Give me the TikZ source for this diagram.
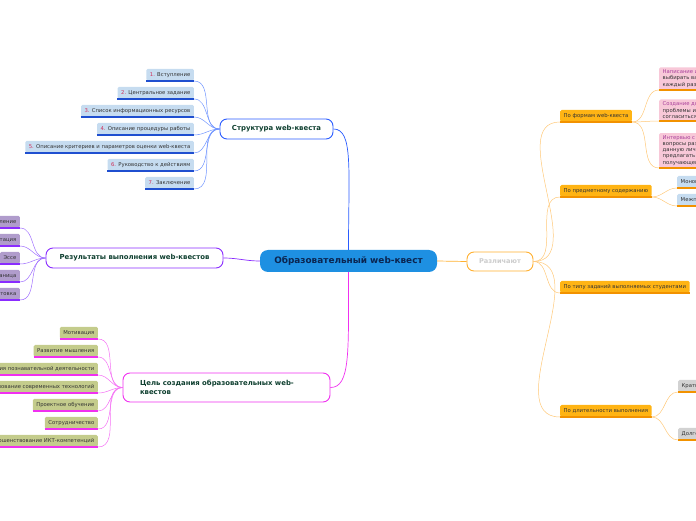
\documentclass[tikz,border=0pt]{standalone}
\usepackage{fontspec}
\setmainfont{DejaVu Sans}
\usepackage{xcolor}
\usetikzlibrary{arrows.meta}
\definecolor{hubfill}{HTML}{1E90E2}
\definecolor{hubtext}{HTML}{0B2550}
\definecolor{brtext}{HTML}{0E3F2F}
\definecolor{leaftext}{HTML}{333333}
\definecolor{numred}{HTML}{D0305A}
\definecolor{sblue}{HTML}{2A5CFF}
\definecolor{slight}{HTML}{6F94FF}
\definecolor{sfill}{HTML}{C6DCF0}
\definecolor{sline}{HTML}{1F4FD0}
\definecolor{rpurple}{HTML}{8A2CFF}
\definecolor{rlight}{HTML}{A06EFF}
\definecolor{rfill}{HTML}{B09CCC}
\definecolor{gmag}{HTML}{F030F0}
\definecolor{glight}{HTML}{F470F4}
\definecolor{gfill}{HTML}{C4CC8C}
\definecolor{orline}{HTML}{FFB030}
\definecolor{orlight}{HTML}{FFC878}
\definecolor{orfill}{HTML}{FFB414}
\definecolor{orunder}{HTML}{F29200}
\definecolor{pfill}{HTML}{F8C8D8}
\definecolor{ptitle}{HTML}{A8409A}
\definecolor{kfill}{HTML}{D2D2D2}
\newcommand{\stepno}[1]{\textcolor{numred}{#1}}

\begin{document}
\begin{tikzpicture}[
    x=1pt, y=1pt,
    hub/.style={rectangle, rounded corners=8pt, fill=hubfill, minimum width=177pt, minimum height=22pt, font=\fontsize{8.9}{10}\selectfont\bfseries, text=hubtext},
    branch/.style={rectangle, rounded corners=7pt, draw=#1, line width=0.9pt, fill=white, minimum height=20pt, font=\fontsize{6.9}{8.4}\selectfont\bfseries, text=brtext},
    leaf/.style 2 args={rectangle, rounded corners=1.5pt, fill=#1, minimum height=12pt, inner xsep=3.5pt, inner ysep=0pt, font=\fontsize{5.3}{6}\selectfont, text=leaftext,
        append after command={(\tikzlastnode.south west) edge[draw=#2, line width=1.3pt] (\tikzlastnode.south east)}},
    note/.style={leaf={pfill}{orunder}, align=left, inner ysep=2.5pt, font=\fontsize{5.3}{6.2}\selectfont},
    link/.style={draw=#1, line width=0.7pt},
    twig/.style={draw=#1, line width=0.5pt},
]
\useasboundingbox (0,0) rectangle (696,520);
\clip (0,0) rectangle (696,520);

\node[hub] (c) at (348.5,259) {Образовательный web-квест};
\node[branch=orline, minimum width=66pt, minimum height=19pt, font=\fontsize{6.6}{8}\selectfont\bfseries, text=black!20] (d) at (500,258.5) {Различают};
\node[branch=sblue, minimum width=113pt] (s) at (276.5,391) {Структура web-квеста};
\node[branch=rpurple, minimum width=177pt] (r) at (134.5,262) {Результаты выполнения web-квестов};
\node[branch=gmag, minimum height=29pt, text width=173pt, inner xsep=17pt, align=left] (g) at (226.5,132.5) {Цель создания образовательных web-\\квестов};

\node[leaf={sfill}{sline}, anchor=south east] (s1) at (194,439) {\stepno{1.} Вступление};
\node[leaf={sfill}{sline}, anchor=south east] (s2) at (194,421) {\stepno{2.} Центральное задание};
\node[leaf={sfill}{sline}, anchor=south east] (s3) at (194,403) {\stepno{3.} Список информационных ресурсов};
\node[leaf={sfill}{sline}, anchor=south east] (s4) at (194,385) {\stepno{4.} Описание процедуры работы};
\node[leaf={sfill}{sline}, anchor=south east] (s5) at (194,367) {\stepno{5.} Описание критериев и параметров оценки web-квеста};
\node[leaf={sfill}{sline}, anchor=south east] (s6) at (194,349) {\stepno{6.} Руководство к действиям};
\node[leaf={sfill}{sline}, anchor=south east] (s7) at (194,331) {\stepno{7.} Заключение};

\node[leaf={rfill}{rpurple}, anchor=south east] (r1) at (20,292) {Представление};
\node[leaf={rfill}{rpurple}, anchor=south east] (r2) at (20,274) {Презентация};
\node[leaf={rfill}{rpurple}, anchor=south east] (r3) at (20,256) {Эссе};
\node[leaf={rfill}{rpurple}, anchor=south east] (r4) at (20,238) {Web-страница};
\node[leaf={rfill}{rpurple}, anchor=south east] (r5) at (20,220) {Подготовка};

\node[leaf={gfill}{gmag}, anchor=south east] (g1) at (98,181) {Мотивация};
\node[leaf={gfill}{gmag}, anchor=south east] (g2) at (98,163) {Развитие мышления};
\node[leaf={gfill}{gmag}, anchor=south east] (g3) at (98,145) {Активизация познавательной деятельности};
\node[leaf={gfill}{gmag}, anchor=south east] (g4) at (98,127) {Использование современных технологий};
\node[leaf={gfill}{gmag}, anchor=south east] (g5) at (98,109) {Проектное обучение};
\node[leaf={gfill}{gmag}, anchor=south east] (g6) at (98,91) {Сотрудничество};
\node[leaf={gfill}{gmag}, anchor=south east] (g7) at (98,73) {Совершенствование ИКТ-компетенций};

\node[leaf={orfill}{orunder}, anchor=south west] (f) at (560,398) {По формам web-квеста};
\node[leaf={orfill}{orunder}, anchor=south west] (m) at (560,323) {По предметному содержанию};
\node[leaf={orfill}{orunder}, anchor=south west] (t) at (560,227) {По типу заданий выполняемых студентами};
\node[leaf={orfill}{orunder}, anchor=south west] (l) at (560,103) {По длительности выполнения};

\node[note, anchor=south west] (p1) at (659,430) {\textcolor{ptitle}{Написание интерактивной истории}\\выбирать варианты продолжения работы\\каждый раз указываются направления};
\node[note, anchor=south west] (p2) at (659,399) {\textcolor{ptitle}{Создание документа, дающего анализ}\\проблемы и приглашающего учащихся\\согласиться или не согласиться};
\node[note, anchor=south west] (p3) at (659,352) {\textcolor{ptitle}{Интервью с виртуальным персонажем}\\вопросы разрабатываются учащимися\\данную личность\\предлагать не отдельному ученику\\получающей оценку};

\node[leaf={sfill}{orunder}, anchor=south west] (b1) at (677,332) {Монопредметные};
\node[leaf={sfill}{orunder}, anchor=south west] (b2) at (677,314) {Межпредметные};
\node[leaf={kfill}{orunder}, anchor=south west] (k1) at (678,128) {Краткосрочные};
\node[leaf={kfill}{orunder}, anchor=south west] (k2) at (678,80) {Долгосрочные};

\draw[link=sblue] (c.north) .. controls +(0,80) and +(20,0) .. (s.east);
\draw[link=gmag] (c.south) .. controls +(0,-80) and +(20,0) .. (g.east);
\draw[link=rpurple] (c.west) to[out=180,in=0] (r.east);
\draw[link=orline] (c.east) -- (d.west);

\foreach \n in {s1,s2,s3,s4,s5,s6,s7}
    \draw[twig=slight] (s.west) to[out=180,in=0] (\n.south east);
\foreach \n in {r1,r2,r3,r4,r5}
    \draw[twig=rlight] (r.west) to[out=180,in=0] (\n.south east);
\foreach \n in {g1,g2,g3,g4,g5,g6,g7}
    \draw[twig=glight] (g.west) to[out=180,in=0] (\n.south east);
\foreach \n in {f,m,t,l}
    \draw[twig=orlight] (d.east) to[out=0,in=180] (\n.south west);
\foreach \n in {p1,p2,p3}
    \draw[twig=orlight] (f.south east) to[out=0,in=180] (\n.south west);
\foreach \n in {b1,b2}
    \draw[twig=orlight] (m.south east) to[out=0,in=180] (\n.south west);
\foreach \n in {k1,k2}
    \draw[twig=orlight] (l.south east) to[out=0,in=180] (\n.south west);
\end{tikzpicture}
\end{document}
